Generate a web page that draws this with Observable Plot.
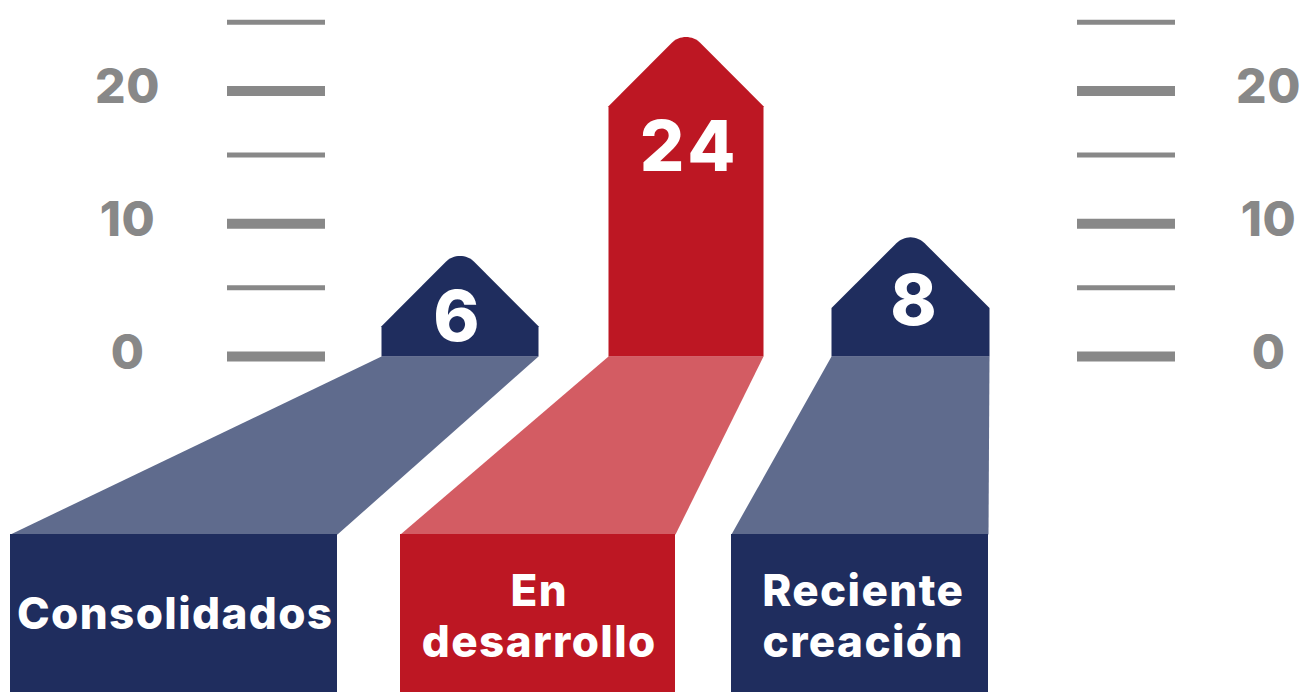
<!DOCTYPE html>
<html><head><meta charset="utf-8">
<script src="https://cdn.jsdelivr.net/npm/d3@7"></script>
<script src="https://cdn.jsdelivr.net/npm/@observablehq/plot@0.6"></script>
<style>html,body{margin:0;padding:0;background:#fff;overflow:hidden} svg{display:block}</style>
</head><body><div id="chart"></div>
<script>
// ---------- DATA ----------
const categories = ["Consolidados", "En desarrollo", "Reciente creación"];
const categoryLabels = ["Consolidados", "En\ndesarrollo", "Reciente\ncreación"];
const values = [6, 24, 8];
const arrowTips = [7.2, 23.7, 8.6];   // tip of each arrow as read against the axis
const axisTicks = [0, 5, 10, 15, 20, 25];
const axisLabels = [0, 10, 20];

// ---------- LAYOUT / STYLE ----------
const W = 1300, H = 692;
const yDomain = [-25.7, 26.45];
const navy = "#1f2d5e", red = "#bd1723", navyLight = "#5f6b8d", redLight = "#d35c63", gray = "#888888";
const fills = [navy, red, navy], lights = [navyLight, redLight, navyLight];
const barX = [[381, 538], [608, 763], [831, 989]];
const boxX = [[10, 337], [400, 675], [731, 988]];
const valueLabelPos = [[456, 318], [687, 148], [913, 302]];
const catLabelPos = [[174, 612], [538, 615], [862, 615]];
const basePx = 356, boxTopPx = 534;
const tickSides = [{x1: 227, x2: 325, lx: 127}, {x1: 1077, x2: 1175, lx: 1268}];
const font = "Inter, 'Open Sans', sans-serif";

const ys = Plot.scale({y: {domain: yDomain, range: [H, 0]}});
const yv = px => ys.invert(px);

// arrows with rounded tip
const R = 20;
const arrowPts = [], trapPts = [], boxes = [];
categories.forEach((c, i) => {
  const [L, Rt] = barX[i];
  const cx = (L + Rt) / 2, h = (Rt - L) / 2;
  const T = ys.apply(arrowTips[i]);
  const sharp = T - (Math.SQRT2 - 1) * R;
  const S = sharp + h;
  const cy = sharp + R * Math.SQRT2;
  const pts = [[L, basePx], [L, S]];
  for (let k = 0; k <= 16; k++) {
    const th = (-135 + 90 * k / 16) * Math.PI / 180;
    pts.push([cx + R * Math.cos(th), cy + R * Math.sin(th)]);
  }
  pts.push([Rt, S], [Rt, basePx]);
  pts.forEach(([x, py]) => arrowPts.push({cat: c, i, x, y: yv(py)}));
  const [bl, br] = boxX[i];
  [[L, basePx], [Rt, basePx], [br, boxTopPx], [bl, boxTopPx]]
    .forEach(([x, py]) => trapPts.push({cat: c, i, x, y: yv(py)}));
  boxes.push({cat: c, i, x1: bl, x2: br, y1: yv(boxTopPx), y2: yv(H + 2)});
});

const ticks = [];
tickSides.forEach(s => axisTicks.forEach(t => ticks.push({...s, t, major: t % 10 === 0})));
const tickLabels = [];
tickSides.forEach(s => axisLabels.forEach(t => tickLabels.push({x: s.lx, t})));

const marks = [];
categories.forEach((c, i) => {
  marks.push(Plot.line(trapPts.filter(d => d.i === i), {x: "x", y: "y", fill: lights[i], stroke: "none"}));
});
marks.push(Plot.rect(boxes, {x1: "x1", x2: "x2", y1: "y1", y2: "y2", fill: d => fills[d.i]}));
categories.forEach((c, i) => {
  marks.push(Plot.line(arrowPts.filter(d => d.i === i), {x: "x", y: "y", fill: fills[i], stroke: "none"}));
});
marks.push(Plot.ruleY(ticks.filter(d => d.major), {y: "t", x1: "x1", x2: "x2", stroke: gray, strokeWidth: 10, dy: 5}));
marks.push(Plot.ruleY(ticks.filter(d => !d.major), {y: "t", x1: "x1", x2: "x2", stroke: gray, strokeWidth: 5, dy: 2.5}));
marks.push(Plot.text(tickLabels, {x: "x", y: "t", text: d => String(d.t), fill: gray, fontSize: 48, fontWeight: 800, fontFamily: font, dy: 2}));
marks.push(Plot.text(categories.map((c, i) => ({i, v: values[i]})), {
  x: d => valueLabelPos[d.i][0], y: d => yv(valueLabelPos[d.i][1]), text: d => String(d.v),
  fill: "white", fontSize: 70, fontWeight: 800, fontFamily: font, dx: 2}));
marks.push(Plot.text(categories.map((c, i) => ({i, label: categoryLabels[i]})), {
  x: d => catLabelPos[d.i][0], y: d => yv(catLabelPos[d.i][1]), text: "label",
  fill: "white", fontSize: 44, fontWeight: 800, fontFamily: font, lineHeight: 1.15, dx: 0.7}));

const chart = Plot.plot({
  width: W, height: H,
  margin: 0,
  x: {type: "linear", domain: [0, W], range: [0, W], axis: null},
  y: {type: "linear", domain: yDomain, range: [H, 0], axis: null},
  style: {fontFamily: font, background: "white"},
  marks
});
// letter spacing to approximate the wide geometric face of the original
const textGroups = chart.querySelectorAll('g[aria-label="text"]');
const spacing = [0.5, 4, 1.4];
textGroups.forEach((g, k) => g.setAttribute("letter-spacing", spacing[k] ?? 0));
document.getElementById("chart").appendChild(chart);
</script>
</body></html>
